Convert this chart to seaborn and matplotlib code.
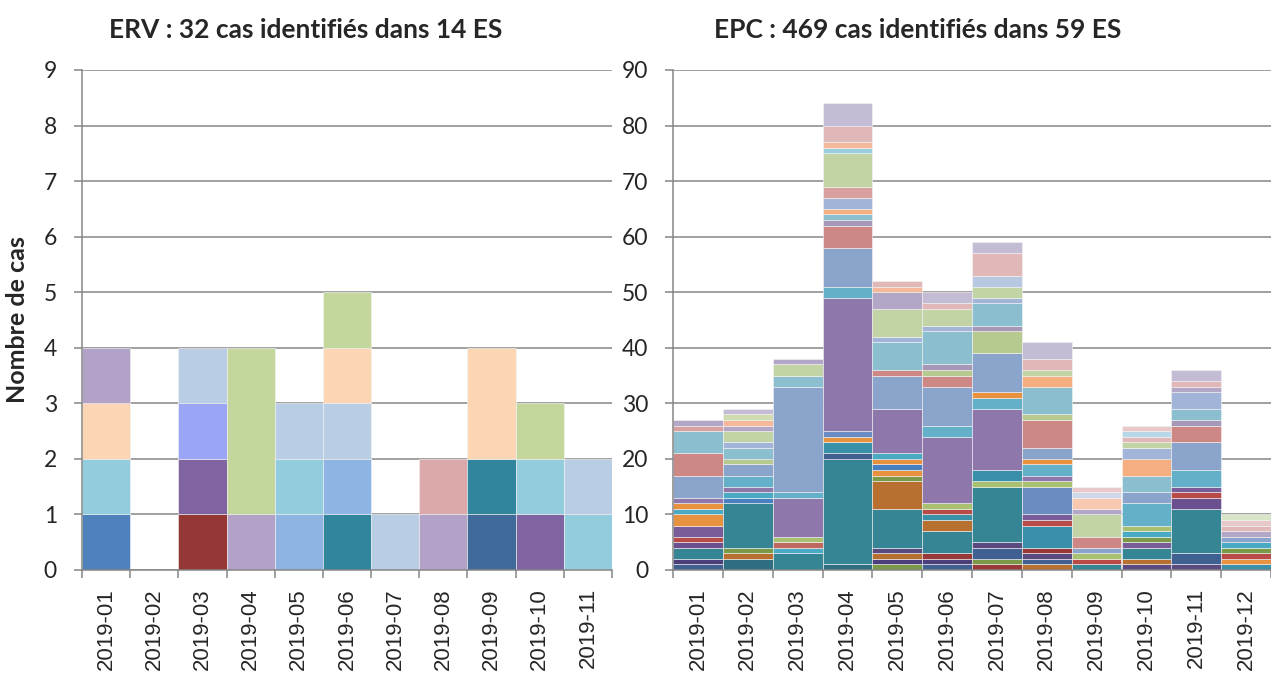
import numpy as np
import pandas as pd
import matplotlib
matplotlib.use("Agg")
import matplotlib.pyplot as plt
import seaborn as sns
from matplotlib.ticker import FixedLocator, MultipleLocator

# ------------------------------------------------------------------ data
erv_title = "ERV : 32 cas identifiés dans 14 ES"
epc_title = "EPC : 469 cas identifiés dans 59 ES"
y_label = "Nombre de cas"

erv_months = ["2019-01", "2019-02", "2019-03", "2019-04", "2019-05", "2019-06",
              "2019-07", "2019-08", "2019-09", "2019-10", "2019-11"]
# cases per establishment, stacked bottom -> top
erv_counts = [[1, 1, 1, 1], [], [1, 1, 1, 1], [1, 3], [1, 1, 1], [1, 1, 1, 1, 1],
              [1], [1, 1], [1, 1, 2], [1, 1, 1], [1, 1]]

epc_months = ["2019-01", "2019-02", "2019-03", "2019-04", "2019-05", "2019-06",
              "2019-07", "2019-08", "2019-09", "2019-10", "2019-11", "2019-12"]
epc_counts = [
    [1, 1, 2, 1, 1, 2, 2, 1, 1, 1, 4, 4, 4, 1, 1],
    [2, 1, 1, 8, 1, 1, 1, 2, 2, 1, 2, 1, 2, 1, 1, 1, 1],
    [3, 1, 1, 1, 7, 1, 19, 2, 2, 1],
    [1, 19, 1, 2, 1, 1, 24, 2, 7, 4, 1, 1, 1, 2, 2, 6, 1, 1, 3, 4],
    [1, 1, 1, 1, 7, 5, 1, 1, 1, 1, 1, 8, 6, 1, 5, 1, 5, 3, 1, 1],
    [1, 1, 1, 4, 2, 1, 1, 1, 12, 2, 7, 2, 1, 1, 6, 1, 3, 1, 2],
    [1, 1, 2, 1, 10, 1, 2, 11, 2, 1, 7, 4, 1, 4, 1, 2, 2, 4, 2],
    [1, 1, 1, 1, 4, 1, 1, 5, 1, 1, 2, 1, 2, 5, 1, 5, 2, 1, 2, 3],
    [1, 1, 1, 1, 2, 4, 1, 2, 1, 1],
    [1, 1, 2, 1, 1, 1, 1, 4, 2, 3, 3, 2, 1, 1, 1, 1],
    [1, 2, 8, 2, 1, 1, 3, 5, 3, 1, 2, 3, 1, 1, 2],
    [1, 1, 1, 1, 1, 1, 1, 1, 1, 1],
]

# ------------------------------------------------------------------ styles
erv_colors = [
    ["#4f81bd", "#93cddd", "#fcd5b5", "#b3a2c7"],
    [],
    ["#953735", "#8064a2", "#9aa6f5", "#b9cde5"],
    ["#b3a2c7", "#c3d69b"],
    ["#8eb4e3", "#93cddd", "#b9cde5"],
    ["#31859c", "#8eb4e3", "#b9cde5", "#fcd5b5", "#c3d69b"],
    ["#b9cde5"],
    ["#b3a2c7", "#dba9a9"],
    ["#3f6a9a", "#31859c", "#fcd5b5"],
    ["#8064a2", "#93cddd", "#c3d69b"],
    ["#93cddd", "#b9cde5"],
]

C = {
    "lav": "#c4bcd4", "lav2": "#b3a7c8", "pink": "#e0b8b8", "pinkr": "#d9a0a0",
    "lb": "#8bbfd0", "lbl": "#9ccce0", "rp": "#cd8785", "bl": "#8aa4cb", "bl2": "#a2b5d8",
    "pu": "#8e78ab", "pul": "#a898b8", "or": "#e8923f", "orl": "#f4ae80",
    "pea": "#f6b89a", "pea2": "#f8c8b0", "tl": "#4aaac4", "tl2": "#63b0c8",
    "dpu": "#7a5c98", "dpu2": "#6b5090", "dpu3": "#4b3e7a", "dpu4": "#5b4a80",
    "rd": "#b84a48", "rdl": "#c06860", "drd": "#983838",
    "te": "#358595", "dte": "#2e6e80", "tm": "#3a90a8",
    "dbl": "#3f6090", "bu": "#4a7fc0", "bu2": "#6a8cc0",
    "gr": "#c2d3a5", "grl": "#cfdcb0", "gr2": "#b6c98e", "grm": "#a8c070",
    "gll": "#d8e4c8", "ol": "#7a9a48", "br": "#b87030",
    "gyb": "#b8c8e0", "lbb": "#b8d8e8", "pkl": "#e8c8c8", "bgl": "#d0d8e8",
}
epc_colors = [
    ["dbl", "dpu3", "te", "dpu2", "rd", "dpu", "or", "tl", "or", "pu", "bl", "rp", "lb", "pinkr", "lav2"],
    ["dte", "br", "ol", "te", "bu", "tl", "pu", "tl2", "bl", "gr2", "lb", "bl2", "gr", "lav2", "pea", "grl", "lav"],
    ["te", "tl", "rdl", "grm", "pu", "tl2", "bl", "lb", "gr", "lav2"],
    ["dte", "te", "dbl", "tm", "or", "bu2", "pu", "tl2", "bl", "rp", "pul", "lb", "orl", "bl2", "pinkr", "gr", "lbl", "pea", "pink", "lav"],
    ["ol", "dpu3", "br", "dpu4", "te", "br", "ol", "or", "bu", "or", "tl", "pu", "bl", "rp", "lb", "bl2", "gr", "lav2", "pea", "pink"],
    ["dbl", "dpu3", "drd", "te", "br", "tm", "rd", "grm", "pu", "tl2", "bl", "rp", "gr2", "pul", "lb", "bl2", "gr", "pink", "lav"],
    ["drd", "ol", "dbl", "dpu4", "te", "grm", "tm", "pu", "tl2", "or", "bl", "gr2", "pul", "lb", "bl2", "gr", "gyb", "pink", "lav"],
    ["br", "dbl", "dpu4", "drd", "tm", "rd", "dpu", "bu2", "grm", "pu", "tl2", "or", "bl", "rp", "gr2", "lb", "orl", "gr", "pink", "lav"],
    ["te", "rd", "grm", "bl", "rp", "gr", "lav2", "pea2", "bgl", "pkl"],
    ["dpu4", "br", "te", "dpu", "ol", "tl", "grm", "tl2", "bl", "lb", "orl", "bl2", "gr", "pink", "lbb", "pkl"],
    ["dpu4", "dbl", "te", "dpu2", "rd", "dpu", "tl2", "bl", "rp", "pul", "lb", "bl2", "lav2", "pink", "lav"],
    ["tm", "or", "rd", "ol", "tl", "bl", "lav2", "pink", "pkl", "gll"],
]
epc_colors = [[C[k] for k in col] for col in epc_colors]

GRID = "#868686"

sns.set_style("white")
plt.rcParams["font.family"] = ["Lato", "DejaVu Sans"]


def stacked(ax, months, counts, colors, ymax, ystep):
    rows, palette, order = [], {}, []
    for i, (cs, cols) in enumerate(zip(counts, colors)):
        for k, (c, col) in enumerate(zip(cs, cols)):
            key = f"{months[i]}#{k:02d}"
            rows.append({"pos": i, "seg": key, "n": c})
            palette[key] = col
            order.append(key)
    df = pd.DataFrame(rows)
    sns.histplot(data=df, x="pos", weights="n", hue="seg", hue_order=order[::-1],
                 palette=palette, multiple="stack", discrete=True, shrink=1,
                 alpha=1, edgecolor="#f4f4f4", linewidth=0.4, legend=False, ax=ax)
    for p in list(ax.patches):
        if p.get_height() == 0:
            p.remove()
    n = len(months)
    ax.set_xlim(-0.5, n - 0.5)
    ax.set_ylim(0, ymax)
    ax.set_axisbelow(True)
    ax.yaxis.set_major_locator(MultipleLocator(ystep))
    ax.yaxis.grid(True, color=GRID, linewidth=1.1)
    ax.xaxis.grid(False)
    ax.set_xticks(range(n))
    ax.set_xticklabels(months, rotation=90, fontsize=16, family=["Liberation Sans"])
    ax.xaxis.set_minor_locator(FixedLocator(np.arange(-0.5, n, 1.0)))
    ax.tick_params(axis="x", which="major", length=0, pad=13)
    ax.tick_params(axis="x", which="minor", length=6, width=1.1, color=GRID, bottom=True)
    ax.tick_params(axis="y", length=6, width=1.1, color=GRID, labelsize=16.5, pad=12, left=True)
    for side in ("top", "right"):
        ax.spines[side].set_visible(False)
    for side in ("left", "bottom"):
        ax.spines[side].set_color(GRID)
        ax.spines[side].set_linewidth(1.1)
    ax.set_xlabel("")
    ax.set_ylabel("")


fig = plt.figure(figsize=(12.71, 6.77), dpi=100)
ax1 = fig.add_axes([82 / 1271, 107 / 677, 530 / 1271, 500 / 677])
ax2 = fig.add_axes([673 / 1271, 107 / 677, 598 / 1271, 500 / 677])

stacked(ax1, erv_months, erv_counts, erv_colors, 9, 1)
stacked(ax2, epc_months, epc_counts, epc_colors, 90, 10)

fig.text(306 / 1271, 1 - 30 / 677, erv_title, ha="center", va="center",
         fontsize=19, fontweight="bold")
fig.text(918 / 1271, 1 - 30 / 677, epc_title, ha="center", va="center",
         fontsize=19, fontweight="bold")
fig.text(18 / 1271, 1 - 320 / 677, y_label, ha="center", va="center",
         rotation=90, fontsize=18, fontweight="bold")

fig.savefig("out.png", dpi=100)
